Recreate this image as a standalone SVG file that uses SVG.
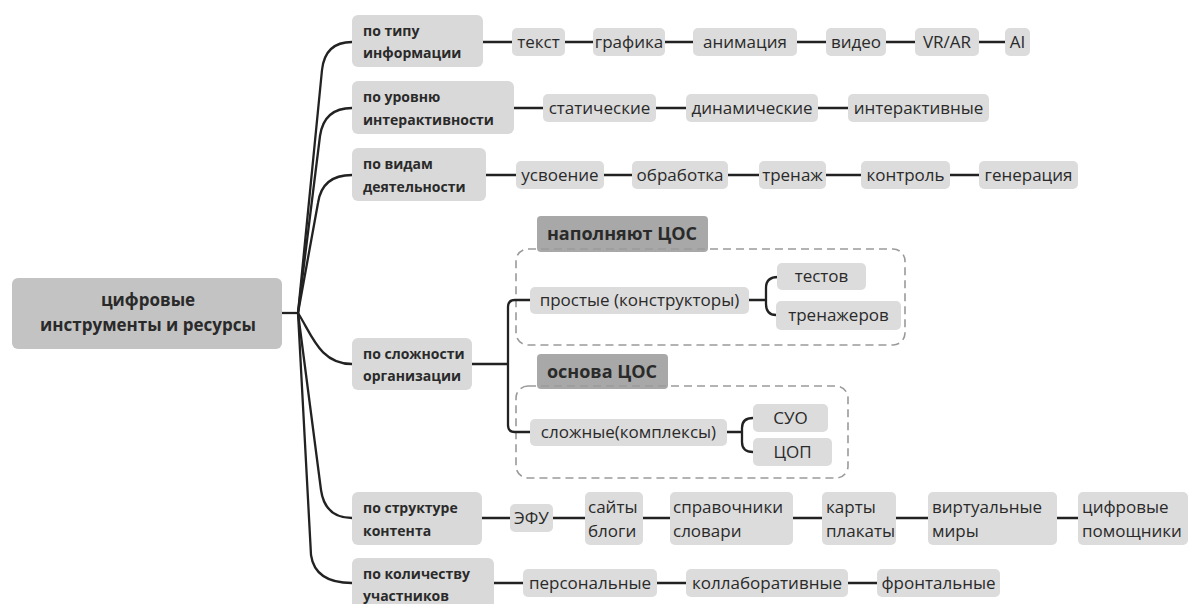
<svg xmlns="http://www.w3.org/2000/svg" width="1189" height="604" viewBox="0 0 1189 604">
<style>
text{font-family:"Open Sans","Noto Sans","DejaVu Sans",sans-serif;fill:#2a2a2a}
.root{fill:#c3c3c3}
.cat{fill:#d9d9d9}
.leaf{fill:#dcdcdc}
.tab{fill:#a8a8a8}
.ct{font-size:14px;font-weight:700}
.rt{font-size:17px;font-weight:700;text-anchor:middle}
.lt{font-size:17px;text-anchor:middle}
.ll{font-size:17px}
.tt{font-size:18px;font-weight:700;text-anchor:middle}
.dash{fill:none;stroke:#9a9a9a;stroke-width:1.6;stroke-dasharray:8 5}
#connectors path{fill:none;stroke:#222;stroke-width:2.3}
</style>
<rect width="1189" height="604" fill="#ffffff"/>

<g id="groups">
  <rect class="tab" x="537" y="216" width="171" height="36" rx="4"/>
  <rect x="516" y="249" width="389" height="96" rx="12" class="dash"/>
  <rect class="tab" x="537" y="354" width="131" height="35" rx="4"/>
  <rect x="516" y="386" width="332" height="92" rx="12" class="dash"/>
  <text class="tt" x="622" y="240">наполняют ЦОС</text>
  <text class="tt" x="602" y="378">основа ЦОС</text>
</g>

<g id="connectors">
  <path d="M282,313 H298"/>
  <path d="M298,313 L322,70 Q325,42 352,42"/>
  <path d="M298,313 L320,136 Q324,108 352,108"/>
  <path d="M298,313 L318,203 Q322,175 352,175"/>
  <path d="M298,313 C312,335 320,364 352,364"/>
  <path d="M298,313 L321,490 Q325,518 352,518"/>
  <path d="M298,313 L311,555 Q315,583 352,583"/>
  <path d="M483,42 H512 M565,42 H593 M665,42 H693 M797,42 H826 M886,42 H915 M979,42 H1005"/>
  <path d="M514,108 H543 M656,108 H686 M818,108 H848"/>
  <path d="M486,175 H516 M604,175 H632 M728,175 H759 M826,175 H861 M950,175 H979"/>
  <path d="M472,364 H508 M530,300 H515 Q508,300 508,307 V425 Q508,432 515,432 H530"/>
  <path d="M749,300 H766 M778,277 Q766,277 766,288 V304 Q766,315 776,315"/>
  <path d="M727,432 H742 M753,418 Q742,418 742,428 V442 Q742,452 753,452"/>
  <path d="M482,518 H510 M553,518 H585 M643,518 H670 M793,518 H822 M896,518 H928 M1057,518 H1078"/>
  <path d="M494,583 H523 M657,583 H686 M848,583 H877"/>
</g>

<g id="root"><rect class="root" x="12" y="278" width="270" height="71" rx="6"/>
<text class="rt" x="148" y="306">цифровые</text><text class="rt" x="148" y="331">инструменты и ресурсы</text></g>

<g id="cat1"><rect class="cat" x="352" y="15" width="131" height="52" rx="6"/><text class="ct" x="363" y="36">по типу</text><text class="ct" x="363" y="58">информации</text></g>
<g id="cat2"><rect class="cat" x="352" y="81" width="162" height="53" rx="6"/><text class="ct" x="363" y="102">по уровню</text><text class="ct" x="363" y="125">интерактивности</text></g>
<g id="cat3"><rect class="cat" x="352" y="148" width="134" height="53" rx="6"/><text class="ct" x="363" y="169">по видам</text><text class="ct" x="363" y="192">деятельности</text></g>
<g id="cat4"><rect class="cat" x="352" y="338" width="120" height="52" rx="6"/><text class="ct" x="363" y="359">по сложности</text><text class="ct" x="363" y="381">организации</text></g>
<g id="cat5"><rect class="cat" x="352" y="492" width="130" height="53" rx="6"/><text class="ct" x="363" y="513">по структуре</text><text class="ct" x="363" y="536">контента</text></g>
<g id="cat6"><rect class="cat" x="352" y="558" width="142" height="52" rx="6"/><text class="ct" x="363" y="579">по количеству</text><text class="ct" x="363" y="601">участников</text></g>

<g id="r1-1"><rect class="leaf" x="512" y="28" width="53" height="28" rx="5"/><text class="lt" x="538.5" y="48">текст</text></g>
<g id="r1-2"><rect class="leaf" x="593" y="28" width="72" height="28" rx="5"/><text class="lt" x="629" y="48">графика</text></g>
<g id="r1-3"><rect class="leaf" x="693" y="28" width="104" height="28" rx="5"/><text class="lt" x="745" y="48">анимация</text></g>
<g id="r1-4"><rect class="leaf" x="826" y="28" width="60" height="28" rx="5"/><text class="lt" x="856" y="48">видео</text></g>
<g id="r1-5"><rect class="leaf" x="915" y="28" width="64" height="28" rx="5"/><text class="lt" x="947" y="48">VR/AR</text></g>
<g id="r1-6"><rect class="leaf" x="1005" y="28" width="25" height="28" rx="5"/><text class="lt" x="1017.5" y="48">AI</text></g>

<g id="r2-1"><rect class="leaf" x="543" y="94" width="113" height="28" rx="5"/><text class="lt" x="599.5" y="114">статические</text></g>
<g id="r2-2"><rect class="leaf" x="686" y="94" width="132" height="28" rx="5"/><text class="lt" x="752" y="114">динамические</text></g>
<g id="r2-3"><rect class="leaf" x="848" y="94" width="141" height="28" rx="5"/><text class="lt" x="918.5" y="114">интерактивные</text></g>

<g id="r3-1"><rect class="leaf" x="516" y="161" width="88" height="28" rx="5"/><text class="lt" x="560" y="181">усвоение</text></g>
<g id="r3-2"><rect class="leaf" x="632" y="161" width="96" height="28" rx="5"/><text class="lt" x="680" y="181">обработка</text></g>
<g id="r3-3"><rect class="leaf" x="759" y="161" width="67" height="28" rx="5"/><text class="lt" x="792.5" y="181">тренаж</text></g>
<g id="r3-4"><rect class="leaf" x="861" y="161" width="89" height="28" rx="5"/><text class="lt" x="905.5" y="181">контроль</text></g>
<g id="r3-5"><rect class="leaf" x="979" y="161" width="99" height="28" rx="5"/><text class="lt" x="1028.5" y="181">генерация</text></g>

<g id="simple"><rect class="leaf" x="530" y="287" width="219" height="27" rx="5"/><text class="lt" x="639.5" y="306">простые (конструкторы)</text></g>
<g id="tests"><rect class="leaf" x="777" y="263" width="89" height="27" rx="5"/><text class="lt" x="821.5" y="282">тестов</text></g>
<g id="trainers"><rect class="leaf" x="776" y="301" width="125" height="29" rx="5"/><text class="lt" x="838.5" y="321">тренажеров</text></g>
<g id="complex"><rect class="leaf" x="530" y="419" width="197" height="27" rx="5"/><text class="lt" x="628.5" y="438">сложные(комплексы)</text></g>
<g id="suo"><rect class="leaf" x="753" y="404" width="75" height="28" rx="5"/><text class="lt" x="790.5" y="424">СУО</text></g>
<g id="tsop"><rect class="leaf" x="753" y="438" width="79" height="28" rx="5"/><text class="lt" x="792.5" y="458">ЦОП</text></g>

<g id="r5-1"><rect class="leaf" x="510" y="504" width="43" height="28" rx="5"/><text class="lt" x="531.5" y="524">ЭФУ</text></g>
<g id="r5-2"><rect class="leaf" x="585" y="492" width="58" height="53" rx="5"/><text class="ll" x="588" y="513">сайты</text><text class="ll" x="588" y="537">блоги</text></g>
<g id="r5-3"><rect class="leaf" x="670" y="492" width="123" height="53" rx="5"/><text class="ll" x="673" y="513">справочники</text><text class="ll" x="673" y="537">словари</text></g>
<g id="r5-4"><rect class="leaf" x="822" y="492" width="74" height="53" rx="5"/><text class="ll" x="826" y="513">карты</text><text class="ll" x="826" y="537">плакаты</text></g>
<g id="r5-5"><rect class="leaf" x="928" y="492" width="129" height="53" rx="5"/><text class="ll" x="932" y="513">виртуальные</text><text class="ll" x="932" y="537">миры</text></g>
<g id="r5-6"><rect class="leaf" x="1078" y="492" width="110" height="53" rx="5"/><text class="ll" x="1082" y="513">цифровые</text><text class="ll" x="1082" y="537">помощники</text></g>

<g id="r6-1"><rect class="leaf" x="523" y="569" width="134" height="28" rx="5"/><text class="lt" x="590" y="589">персональные</text></g>
<g id="r6-2"><rect class="leaf" x="686" y="569" width="162" height="28" rx="5"/><text class="lt" x="767" y="589">коллаборативные</text></g>
<g id="r6-3"><rect class="leaf" x="877" y="569" width="123" height="28" rx="5"/><text class="lt" x="938.5" y="589">фронтальные</text></g>
</svg>
